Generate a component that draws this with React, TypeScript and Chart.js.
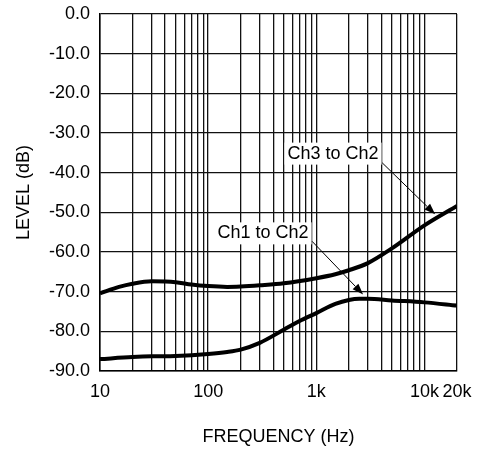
import React, { useEffect, useRef } from "react";
import { Chart, registerables } from "chart.js";

Chart.register(...registerables);

// ---- Data ----
const ch3Freq = [10, 15, 20, 30, 50, 70, 100, 150, 200, 300, 500, 1000, 1500, 2000, 3000, 5000, 10000, 20000];
const ch3Level = [-70.4, -68.8, -68.0, -67.4, -67.6, -68.2, -68.6, -68.8, -68.7, -68.4, -67.9, -66.6, -65.6, -64.6, -62.8, -59.1, -53.3, -48.4];

const ch1Freq = [10, 20, 30, 50, 100, 150, 200, 300, 500, 700, 1000, 1500, 2000, 2500, 3000, 5000, 10000, 20000];
const ch1Level = [-87.0, -86.5, -86.3, -86.2, -85.7, -85.2, -84.6, -82.9, -79.6, -77.4, -75.4, -73.1, -72.1, -71.8, -71.8, -72.2, -72.7, -73.5];

const xGridFreqs = [
  10, 20, 30, 40, 50, 60, 70, 80, 90,
  100, 200, 300, 400, 500, 600, 700, 800, 900,
  1000, 2000, 3000, 4000, 5000, 6000, 7000, 8000, 9000,
  10000, 20000,
];
const xLabelFreqs = [10, 100, 1000, 10000, 20000];
const xLabelTexts = ["10", "100", "1k", "10k", "20k"];

const yMin = -90;
const yMax = 0;
const yStep = 10;

const xTitle = "FREQUENCY (Hz)";
const yTitle = "LEVEL (dB)";

// annotation labels: text, text position (freq, dB), arrow start, arrow end
const noteTexts = ["Ch3 to Ch2", "Ch1 to Ch2"];
const noteTextPos = [[1429, -35.2], [322, -55.3]];
const noteArrowFrom = [[4065, -37.5], [914, -57.3]];
const noteArrowTo = [[12560, -50.5], [2710, -70.7]];

const FONT = "'Liberation Sans', Arial, Helvetica, sans-serif";

const annotationPlugin = {
  id: "notes",
  afterDatasetsDraw(chart: any) {
    const ctx = chart.ctx;
    const xs = chart.scales.x;
    const ys = chart.scales.y;
    ctx.save();
    ctx.fillStyle = "#000";
    ctx.strokeStyle = "#000";
    ctx.font = `18px ${FONT}`;
    ctx.textAlign = "center";
    ctx.textBaseline = "middle";
    for (let i = 0; i < noteTexts.length; i++) {
      const tx = xs.getPixelForValue(noteTextPos[i][0]);
      const ty = ys.getPixelForValue(noteTextPos[i][1]);
      const w = ctx.measureText(noteTexts[i]).width;
      ctx.fillStyle = "#fff";
      ctx.fillRect(tx - w / 2 - 3, ty - 11, w + 6, 22);
      ctx.fillStyle = "#000";
      ctx.fillText(noteTexts[i], tx, ty);

      const x1 = xs.getPixelForValue(noteArrowFrom[i][0]);
      const y1 = ys.getPixelForValue(noteArrowFrom[i][1]);
      const x2 = xs.getPixelForValue(noteArrowTo[i][0]);
      const y2 = ys.getPixelForValue(noteArrowTo[i][1]);
      const ang = Math.atan2(y2 - y1, x2 - x1);
      const headLen = 11;
      const headW = 4;
      const bx = x2 - headLen * Math.cos(ang);
      const by = y2 - headLen * Math.sin(ang);
      ctx.lineWidth = 1;
      ctx.beginPath();
      ctx.moveTo(x1, y1);
      ctx.lineTo(bx, by);
      ctx.stroke();
      ctx.beginPath();
      ctx.moveTo(x2, y2);
      ctx.lineTo(bx + headW * Math.sin(ang), by - headW * Math.cos(ang));
      ctx.lineTo(bx - headW * Math.sin(ang), by + headW * Math.cos(ang));
      ctx.closePath();
      ctx.fill();
    }
    ctx.restore();
  },
};

export default function App() {
  const ref = useRef<HTMLCanvasElement>(null);

  useEffect(() => {
    if (!ref.current) return;
    const toPts = (f: number[], v: number[]) => f.map((x, i) => ({ x, y: v[i] }));
    const chart = new Chart(ref.current, {
      type: "line",
      data: {
        datasets: [
          {
            label: "Ch3 to Ch2",
            data: toPts(ch3Freq, ch3Level),
            borderColor: "#000",
            borderWidth: 4,
            pointRadius: 0,
            cubicInterpolationMode: "monotone",
          },
          {
            label: "Ch1 to Ch2",
            data: toPts(ch1Freq, ch1Level),
            borderColor: "#000",
            borderWidth: 4,
            pointRadius: 0,
            cubicInterpolationMode: "monotone",
          },
        ],
      },
      options: {
        animation: false,
        responsive: false,
        maintainAspectRatio: false,
        layout: { padding: { left: 0, right: 26, top: 14, bottom: 0 } },
        plugins: {
          legend: { display: false },
          tooltip: { enabled: false },
        },
        scales: {
          x: {
            type: "logarithmic",
            min: 10,
            max: 20000,
            afterBuildTicks: (s: any) => {
              s.ticks = xGridFreqs.map((v) => ({ value: v }));
            },
            afterFit: (s: any) => {
              s.height = 78;
            },
            grid: { color: "#111", lineWidth: 1.3, drawTicks: false },
            border: { color: "#000", width: 1.5 },
            ticks: {
              autoSkip: false,
              maxRotation: 0,
              minRotation: 0,
              padding: 10,
              color: "#000",
              font: { family: FONT, size: 18 },
              callback: (v: any) => {
                const idx = xLabelFreqs.indexOf(Number(v));
                return idx >= 0 ? xLabelTexts[idx] : "";
              },
            },
            title: {
              display: true,
              text: xTitle,
              color: "#000",
              font: { family: FONT, size: 18 },
              padding: { top: 0, bottom: 1 },
            },
          },
          y: {
            min: yMin,
            max: yMax,
            afterFit: (s: any) => {
              s.width = 100;
            },
            grid: {
              color: "#111",
              lineWidth: 1.3,
              drawTicks: true,
              tickLength: 10,
              tickColor: "rgba(0,0,0,0)",
            },
            border: { color: "#000", width: 1.5 },
            ticks: {
              stepSize: yStep,
              padding: 0,
              color: "#000",
              font: { family: FONT, size: 18 },
              callback: (v: any) => Number(v).toFixed(1),
            },
            title: {
              display: true,
              text: yTitle,
              color: "#000",
              font: { family: FONT, size: 18 },
              padding: { top: 13, bottom: 0 },
            },
          },
        },
      },
      plugins: [annotationPlugin],
    } as any);
    return () => chart.destroy();
  }, []);

  return (
    <div style={{ position: "absolute", left: 0, top: 0, width: 483, height: 449, background: "#fff" }}>
      <canvas ref={ref} width={483} height={449} style={{ width: 483, height: 449 }} />
    </div>
  );
}
